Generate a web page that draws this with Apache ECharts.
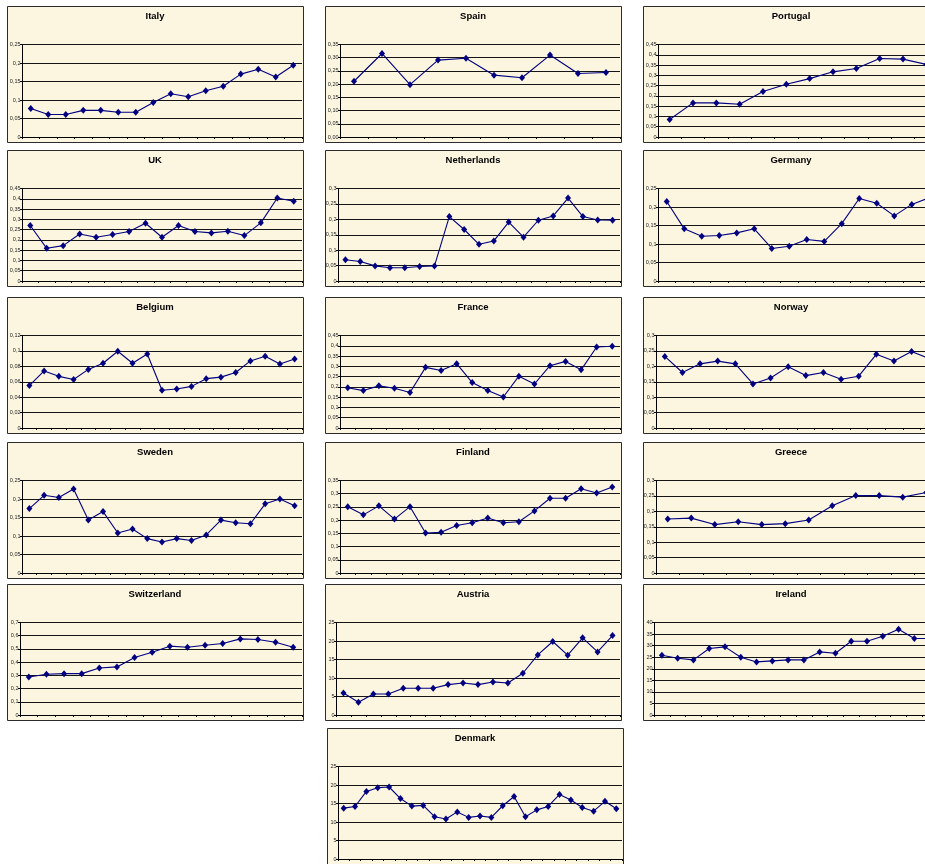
<!DOCTYPE html>
<html>
<head>
<meta charset="utf-8">
<script src="https://cdn.jsdelivr.net/npm/echarts@6/dist/echarts.min.js"></script>
<style>
  html, body { margin: 0; padding: 0; background: #ffffff; }
  #chart { width: 925px; height: 864px; }
</style>
</head>
<body>
<div id="chart"></div>
<script>
// Panel titles, in reading order (three per row, Denmark alone in the last row)
const countries = ['Italy', 'Spain', 'Portugal', 'UK', 'Netherlands', 'Germany',
  'Belgium', 'France', 'Norway', 'Sweden', 'Finland', 'Greece',
  'Switzerland', 'Austria', 'Ireland', 'Denmark'];

// Series values per country
const italy = [0.077, 0.061, 0.061, 0.072, 0.072, 0.067, 0.067, 0.093, 0.117, 0.109, 0.125, 0.137, 0.170, 0.183, 0.162, 0.194];
const spain = [0.211, 0.316, 0.198, 0.291, 0.298, 0.234, 0.224, 0.310, 0.240, 0.244];
const portugal = [0.085, 0.166, 0.166, 0.159, 0.221, 0.257, 0.284, 0.317, 0.333, 0.382, 0.379, 0.353];
const uk = [0.270, 0.159, 0.172, 0.229, 0.213, 0.226, 0.241, 0.281, 0.213, 0.270, 0.241, 0.234, 0.242, 0.221, 0.283, 0.404, 0.388];
const netherlands = [0.069, 0.063, 0.049, 0.043, 0.043, 0.047, 0.049, 0.209, 0.167, 0.119, 0.130, 0.191, 0.142, 0.197, 0.211, 0.269, 0.209, 0.198, 0.197];
const germany = [0.215, 0.141, 0.121, 0.123, 0.130, 0.141, 0.088, 0.094, 0.112, 0.107, 0.155, 0.223, 0.210, 0.176, 0.207, 0.225];
const belgium = [0.055, 0.074, 0.067, 0.063, 0.076, 0.084, 0.0995, 0.084, 0.096, 0.049, 0.0505, 0.054, 0.064, 0.066, 0.072, 0.087, 0.093, 0.083, 0.0895];
const france = [0.196, 0.182, 0.205, 0.193, 0.173, 0.295, 0.280, 0.313, 0.221, 0.182, 0.151, 0.252, 0.214, 0.303, 0.324, 0.283, 0.394, 0.398];
const norway = [0.232, 0.180, 0.208, 0.217, 0.208, 0.143, 0.162, 0.199, 0.170, 0.180, 0.158, 0.168, 0.239, 0.217, 0.248, 0.225];
const sweden = [0.174, 0.210, 0.204, 0.227, 0.143, 0.166, 0.108, 0.119, 0.093, 0.084, 0.093, 0.088, 0.103, 0.143, 0.136, 0.133, 0.187, 0.200, 0.182];
const finland = [0.251, 0.220, 0.254, 0.204, 0.251, 0.151, 0.154, 0.180, 0.190, 0.208, 0.190, 0.194, 0.235, 0.283, 0.283, 0.319, 0.303, 0.325];
const greece = [0.175, 0.178, 0.157, 0.166, 0.157, 0.160, 0.172, 0.218, 0.251, 0.251, 0.246, 0.261];
const switzerland = [0.288, 0.308, 0.313, 0.313, 0.356, 0.364, 0.435, 0.475, 0.521, 0.513, 0.528, 0.541, 0.576, 0.571, 0.551, 0.513];
const austria = [5.96, 3.43, 5.69, 5.69, 7.22, 7.22, 7.22, 8.21, 8.66, 8.21, 8.94, 8.66, 11.28, 16.25, 19.86, 16.16, 20.85, 17.06, 21.48];
const ireland = [25.85, 24.55, 23.83, 28.74, 29.46, 24.98, 22.96, 23.39, 23.83, 23.83, 27.29, 26.71, 31.91, 31.91, 34.08, 37.11, 33.07, 33.1];
const denmark = [13.75, 14.2, 18.27, 19.28, 19.46, 16.33, 14.3, 14.48, 11.44, 10.79, 12.73, 11.25, 11.62, 11.25, 14.39, 16.88, 11.44, 13.28, 14.2, 17.44, 15.96, 13.93, 12.92, 15.59, 13.56];

const seriesValues = [italy, spain, portugal, uk, netherlands, germany, belgium, france,
  norway, sweden, finland, greece, switzerland, austria, ireland, denmark];

// Value-axis ranges and tick steps per panel
const yMax = [0.25, 0.35, 0.45, 0.45, 0.3, 0.25, 0.12, 0.45, 0.3, 0.25, 0.35, 0.3, 0.7, 25, 40, 25];
const yStep = [0.05, 0.05, 0.05, 0.05, 0.05, 0.05, 0.02, 0.05, 0.05, 0.05, 0.05, 0.05, 0.1, 5, 5, 5];
// Fixed number of decimals for tick labels (null = shortest form)
const yDecimals = [null, 2, null, null, null, null, null, null, null, null, null, null, null, null, null, null];

// ---- layout ----
const colLeft = [7, 325, 643];
const rowTop = [6, 150, 297, 442, 584, 728];
const PANEL_W = 296, PANEL_H = 136;
const NAVY = '#000080';

function tickText(v, dec) {
  let s = dec == null ? String(+v.toFixed(4)) : v.toFixed(dec);
  return s.replace('.', ',');
}

const titles = [], grids = [], xAxes = [], yAxes = [], series = [], panels = [];

countries.forEach((name, i) => {
  const row = Math.floor(i / 3);
  const col = i === 15 ? 1 : i % 3;
  const px = i === 15 ? 327 : colLeft[col];
  const py = rowTop[row];
  const data = seriesValues[i];

  panels.push({
    type: 'rect', z: -10, silent: true,
    shape: { x: px + 0.5, y: py + 0.5, width: PANEL_W, height: PANEL_H },
    style: { fill: '#FCF5E0', stroke: '#2b2b2b', lineWidth: 1 }
  });

  titles.push({
    text: name, left: px + PANEL_W / 2, top: py + 5, textAlign: 'center', padding: 0,
    textStyle: { fontFamily: 'Arial, "Liberation Sans", sans-serif', fontSize: 9.5, fontWeight: 'bold', color: '#000' }
  });

  const maxLabelLen = tickText(yMax[i], yDecimals[i]).length;
  const inset = 7 + 2 * maxLabelLen;
  const left = px + inset;
  grids.push({
    left: left, top: py + 38.5, width: px + 295 - left, height: 92.5,
    containLabel: false, outerBoundsMode: 'none'
  });

  xAxes.push({
    type: 'category', gridIndex: i, boundaryGap: true,
    data: data.map((_, k) => String(k + 1)),
    axisLine: { show: true, lineStyle: { color: '#000', width: 1 } },
    axisTick: { show: true, interval: 0, length: 2, lineStyle: { color: '#000', width: 1 } },
    axisLabel: { show: false },
    splitLine: { show: false }
  });

  const dec = yDecimals[i];
  yAxes.push({
    type: 'value', gridIndex: i, min: 0, max: yMax[i], interval: yStep[i],
    axisLine: { show: true, lineStyle: { color: '#000', width: 1 } },
    axisTick: { show: true, length: 2, lineStyle: { color: '#000', width: 1 } },
    axisLabel: {
      show: true, margin: 1.5, fontSize: 5.5, color: '#222',
      fontFamily: 'Arial, "Liberation Sans", sans-serif',
      formatter: v => tickText(v, dec)
    },
    splitLine: { show: true, lineStyle: { color: '#151515', width: 1 } }
  });

  series.push({
    type: 'line', xAxisIndex: i, yAxisIndex: i, data: data,
    symbol: 'diamond', symbolSize: [6, 7], showAllSymbol: true,
    itemStyle: { color: NAVY },
    lineStyle: { color: NAVY, width: 1.1 },
    emphasis: { disabled: true }
  });
});

const chart = echarts.init(document.getElementById('chart'), null, { renderer: 'canvas' });
chart.setOption({
  animation: false,
  backgroundColor: '#ffffff',
  graphic: { elements: panels },
  title: titles,
  grid: grids,
  xAxis: xAxes,
  yAxis: yAxes,
  series: series
});
</script>
</body>
</html>
